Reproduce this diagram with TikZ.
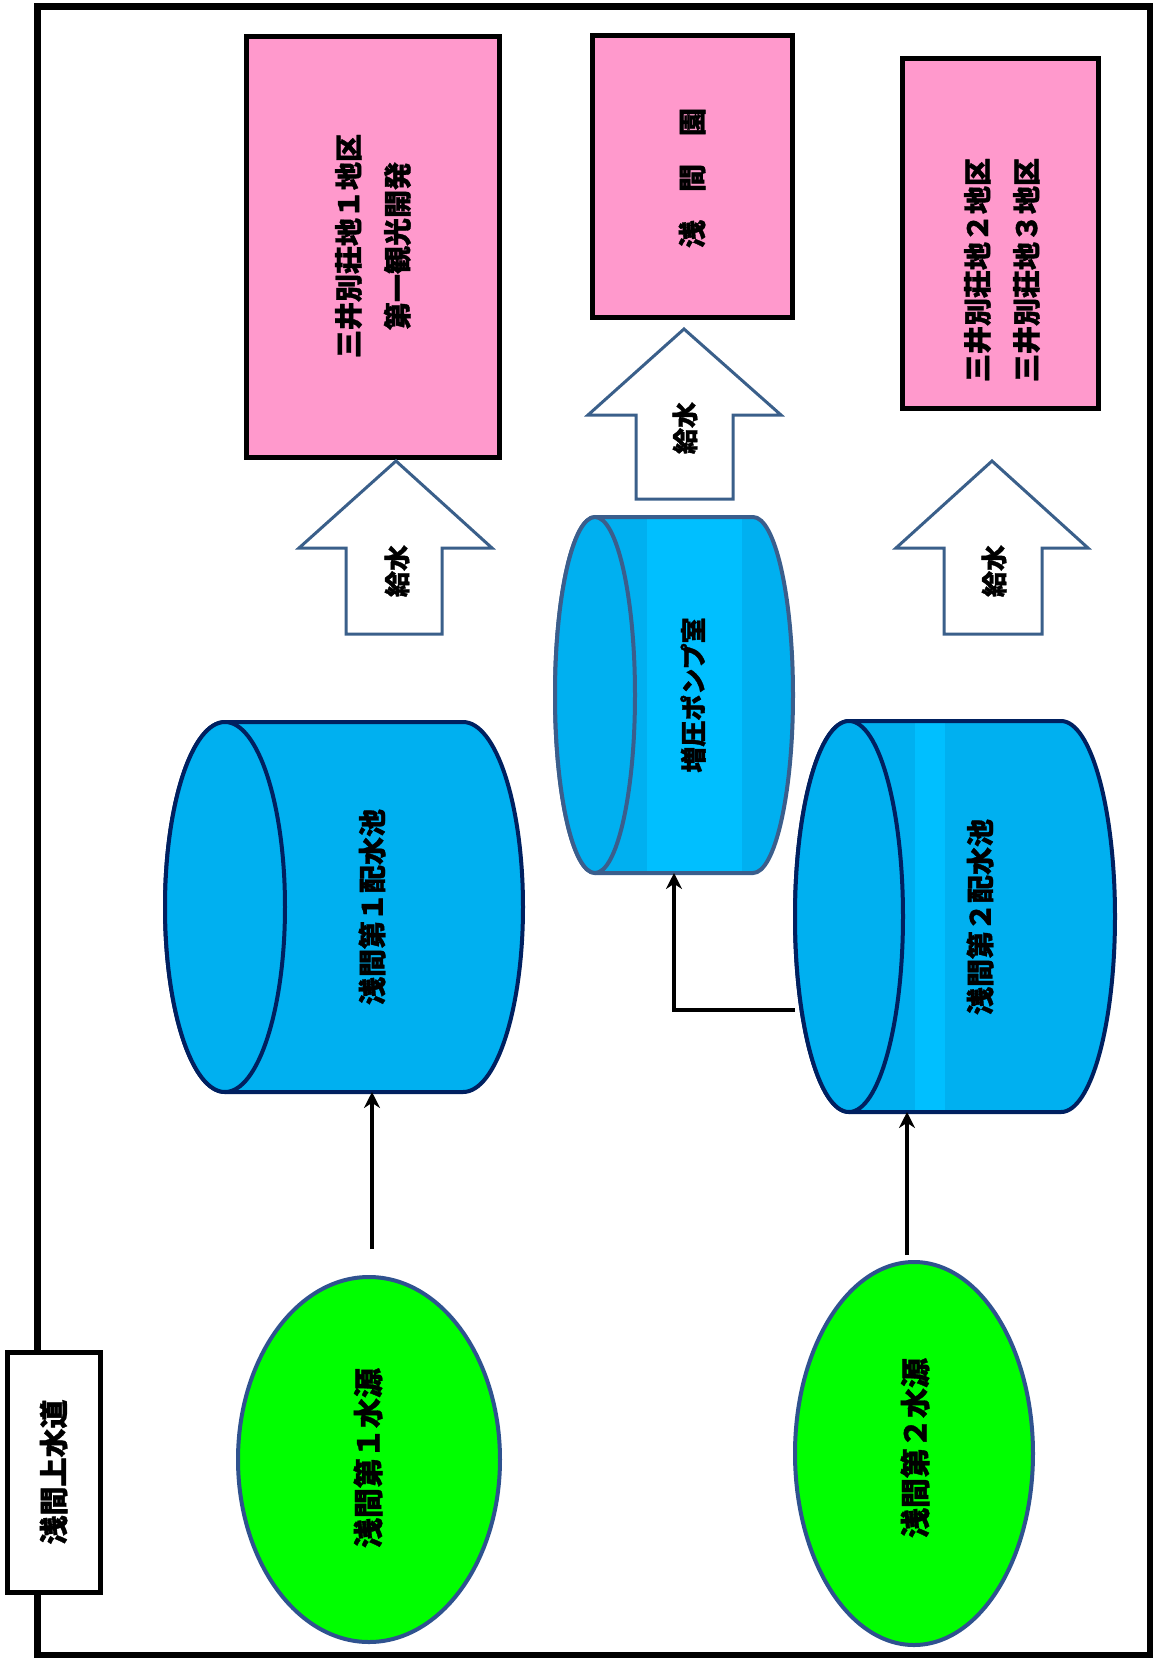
\documentclass[tikz,border=0pt]{standalone}
\usepackage{fontspec}
\newfontfamily\jp{Noto Sans CJK JP}[BoldFeatures={FakeBold=1.2}]
\usetikzlibrary{shapes.geometric,arrows.meta}
\definecolor{pinkc}{HTML}{FF99CC}
\definecolor{cylblue}{HTML}{00B0F0}
\definecolor{bandblue}{HTML}{00BFFF}
\definecolor{navyc}{HTML}{002060}
\definecolor{pumpline}{HTML}{3B5E8C}
\definecolor{greenc}{HTML}{00FF00}
\definecolor{elline}{HTML}{2F528F}
\definecolor{arrline}{HTML}{3A5F8A}
\tikzset{
  lbl/.style={font=\jp\bfseries\fontsize{28}{49}\selectfont, rotate=90, align=center, inner sep=0pt},
  bigtext/.style={font=\jp\bfseries\fontsize{30}{49}\selectfont},
  smalltext/.style={font=\jp\bfseries\fontsize{26}{49}\selectfont},
  pinkbox/.style={draw=black, line width=5pt, fill=pinkc, inner sep=0pt},
  srcell/.style={ellipse, draw=elline, line width=4pt, fill=greenc, inner sep=0pt},
  tankbox/.style={inner sep=0pt, outer sep=0pt},
  conn/.style={draw=black, line width=4pt, -{Stealth[length=16pt,width=16pt]}},
  blockarrow/.style={draw=arrline, line width=3pt, fill=white, line join=miter},
}
% #1 node, #2 rx, #3 ry, #4 line colour
\newcommand\tankbody[4]{%
  \fill[cylblue] ([xshift=#2]#1.north west) -- ([xshift=-#2]#1.north east)
    arc[start angle=90,end angle=-90,x radius=#2,y radius=#3]
    -- ([xshift=#2]#1.south west)
    arc[start angle=270,end angle=90,x radius=#2,y radius=#3] -- cycle;
}
\newcommand\tankband[3]{% #1 node, #2 left x, #3 right x
  \fill[bandblue] (#2,0 |- #1.north) rectangle (#3,0 |- #1.south);
}
\newcommand\tankline[4]{%
  \draw[#4, line width=4pt] ([xshift=#2]#1.north west) -- ([xshift=-#2]#1.north east)
    arc[start angle=90,end angle=-90,x radius=#2,y radius=#3]
    -- ([xshift=#2]#1.south west)
    arc[start angle=270,end angle=90,x radius=#2,y radius=#3] -- cycle;
  \draw[#4, line width=4pt, fill=cylblue] ([xshift=#2]#1.west) ellipse[x radius=#2, y radius=#3];
}
\begin{document}
\begin{tikzpicture}[x=1pt,y=-1pt]
\useasboundingbox (0,0) rectangle (1153,1658);
% outer frame
\draw[line width=7pt] (37,6) rectangle (1150,1655);
% title box
\node[lbl, font=\jp\bfseries\fontsize{29}{49}\selectfont, draw=black, line width=5pt, fill=white, minimum width=240pt, minimum height=93pt] (title) at (53.5,1472) {浅間上水道};

% destination boxes
\node[pinkbox, minimum width=253pt, minimum height=421pt] (b1) at (373,246.5) {};
\node[pinkbox, minimum width=200pt, minimum height=282pt] (b2) at (692,176) {};
\node[pinkbox, minimum width=196pt, minimum height=350pt] (b3) at (1000,233) {};

% block arrows
\draw[blockarrow] (346,634) -- (346,548) -- (299,548) -- (396,461) -- (492,548) -- (442,548) -- (442,634) -- cycle;
\draw[blockarrow] (636,499) -- (636,415) -- (588,415) -- (684,329) -- (781,415) -- (733,415) -- (733,499) -- cycle;
\draw[blockarrow] (944,634) -- (944,548) -- (896,548) -- (992,461) -- (1088,548) -- (1042,548) -- (1042,634) -- cycle;

% tanks
\node[tankbox, minimum width=358pt, minimum height=370pt] (c1) at (344,907) {};
\node[tankbox, minimum width=238pt, minimum height=356pt] (c2) at (674,695) {};
\node[tankbox, minimum width=320pt, minimum height=391pt] (c3) at (955,916.5) {};
\tankbody{c1}{60pt}{185pt}{navyc}
\tankline{c1}{60pt}{185pt}{navyc}
\tankbody{c2}{40pt}{178pt}{pumpline}
\tankband{c2}{647}{742}
\tankline{c2}{40pt}{178pt}{pumpline}
\tankbody{c3}{54pt}{195.5pt}{navyc}
\tankband{c3}{915}{945}
\tankline{c3}{54pt}{195.5pt}{navyc}

% sources
\node[srcell, minimum width=262pt, minimum height=365pt] (e1) at (369,1459.5) {};
\node[srcell, minimum width=238pt, minimum height=383pt] (e2) at (914,1453.5) {};

% connectors
\draw[conn] ([xshift=3pt,yshift=26pt]e1.north) -- ([xshift=3pt]e1.north |- c1.south);
\draw[conn] ([xshift=-7pt,yshift=5pt]e2.north) -- ([xshift=-7pt]e2.north |- c3.south);
\draw[conn] ([yshift=-93.5pt]c3.west) -| (c2.south);

% texts
\node[lbl] (t1) at (373,246) {三井別荘地１地区\\第一観光開発};
\node[lbl] (t2) at (692,178) {浅　間　園};
\node[lbl] (t3) at (1002,270) {三井別荘地２地区\\三井別荘地３地区};
\node[lbl, smalltext] (g1) at (397,571) {給水};
\node[lbl, smalltext] (g2) at (685,428) {給水};
\node[lbl, smalltext] (g3) at (994,571) {給水};
\node[lbl] (tc1) at (372,907) {浅間第１配水池};
\node[lbl, smalltext] (tc2) at (693,695) {増圧ポンプ室};
\node[lbl] (tc3) at (980,917) {浅間第２配水池};
\node[lbl, bigtext] (te1) at (368,1458) {浅間第１水源};
\node[lbl, bigtext] (te2) at (915,1448) {浅間第２水源};
\end{tikzpicture}
\end{document}
